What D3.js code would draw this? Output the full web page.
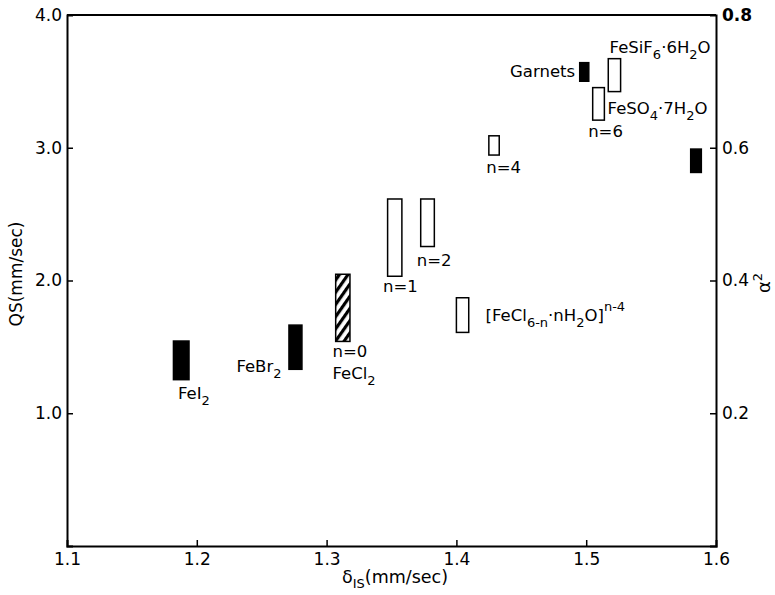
<!DOCTYPE html>
<html><head><meta charset="utf-8">
<script src="https://cdn.jsdelivr.net/npm/d3@7/dist/d3.min.js"></script>
<style>body{margin:0;background:#fff}svg{display:block}text{font-family:"DejaVu Sans",sans-serif;fill:#000}</style>
</head><body><svg id="c" width="775" height="595"></svg>
<script>
// Data: each range box (isomer shift range, quadrupole splitting range)
const boxIds   = ["FeI2","FeBr2","FeCl2","n1","n2","n3","n4","n6","FeSiF6","Garnets","x"];
const isMin    = [1.182,1.271,1.307,1.347,1.3725,1.400,1.425,1.505,1.517,1.495,1.5805];
const isMax    = [1.194,1.281,1.318,1.358,1.383,1.4095,1.433,1.514,1.5265,1.502,1.5887];
const qsMin    = [1.253,1.331,1.541,2.032,2.256,1.609,2.945,3.208,3.423,3.501,2.814];
const qsMax    = [1.544,1.664,2.047,2.614,2.614,1.870,3.090,3.453,3.671,3.641,2.990];
const boxFill  = ["solid","solid","hatch","open","open","open","open","open","open","solid","solid"];
const xTicks   = [1.1,1.2,1.3,1.4,1.5,1.6];
const yTicks   = [1.0,2.0,3.0,4.0];
const a2Ticks  = [0.2,0.4,0.6,0.8];

const svg = d3.select("#c");
const x = d3.scaleLinear().domain([1.1,1.6]).range([67,716]);
const y = d3.scaleLinear().domain([0,4]).range([546,15]);
const ya = d3.scaleLinear().domain([0,0.8]).range([546,15]);

// hatch pattern
const defs = svg.append("defs");
const pat = defs.append("pattern").attr("id","hatch").attr("patternUnits","userSpaceOnUse")
  .attr("width",7).attr("height",7).attr("patternTransform","rotate(35)");
pat.append("rect").attr("width",7).attr("height",7).attr("fill","#fff");
pat.append("rect").attr("width",3.2).attr("height",7).attr("fill","#000");

// axes
const g = svg.append("g");
g.append("g").attr("transform","translate(0,546)")
  .call(d3.axisBottom(x).tickValues(xTicks).tickSize(-6).tickPadding(7).tickFormat(d3.format(".1f")));
g.append("g").attr("transform","translate(67,0)")
  .call(d3.axisLeft(y).tickValues(yTicks).tickSize(-6).tickPadding(5).tickFormat(d3.format(".1f")));
g.append("g").attr("transform","translate(716,0)")
  .call(d3.axisRight(ya).tickValues(a2Ticks).tickSize(-6).tickPadding(6).tickFormat(d3.format(".1f")));
g.selectAll(".domain").attr("stroke","#000").attr("stroke-width",2);
g.selectAll(".tick line").attr("stroke","#000").attr("stroke-width",1.5);
g.selectAll(".tick text").attr("font-size",17).style("font-family","DejaVu Sans");
// top border
svg.append("line").attr("x1",x(1.1)).attr("x2",x(1.6)).attr("y1",y(4)).attr("y2",y(4))
  .attr("stroke","#000").attr("stroke-width",2);
// hide end tick lines
g.selectAll(".tick").filter(d=>d===1.1||d===1.6||d===4.0||d===0.8).select("line").remove();
g.selectAll(".tick").filter(d=>d===0.8).select("text").attr("font-weight","bold");

// boxes
const boxes = boxIds.map((id,i)=>({id,x0:isMin[i],x1:isMax[i],y0:qsMin[i],y1:qsMax[i],f:boxFill[i]}));
svg.append("g").selectAll("rect").data(boxes).join("rect")
  .attr("x",d=>x(d.x0)).attr("width",d=>x(d.x1)-x(d.x0))
  .attr("y",d=>y(d.y1)).attr("height",d=>y(d.y0)-y(d.y1))
  .attr("fill",d=>d.f==="solid"?"#000":d.f==="hatch"?"url(#hatch)":"#fff")
  .attr("stroke","#000").attr("stroke-width",1.5);

const FS = 16.5, SFS = 13;
// label helper: parts = [text, "sub"|"sup"|undefined]
function label(px,py,parts,anchor){
  const t = svg.append("text").attr("x",px).attr("y",py).attr("font-size",FS);
  if(anchor) t.attr("text-anchor",anchor);
  let shift = 0;
  parts.forEach(p=>{
    const s = t.append("tspan").text(p[0]);
    const target = p[1]==="sub"?6:p[1]==="sup"?-10:0;
    if(target!==shift){ s.attr("dy",target-shift); shift=target; }
    if(p[1]) s.attr("font-size",SFS);
  });
  return t;
}
label(x(1.1855),y(1.11),[["Fe"],["I"],["2","sub"]]);
label(x(1.2305),y(1.31),[["FeBr"],["2","sub"]]);
label(x(1.3045),y(1.42),[["n=0"]]);
label(x(1.3045),y(1.26),[["FeCl"],["2","sub"]]);
label(x(1.3435),y(1.91),[["n=1"]]);
label(x(1.3695),y(2.11),[["n=2"]]);
label(x(1.423),y(2.81),[["n=4"]]);
label(x(1.4225),y(1.695),[["[FeCl"],["6-n","sub"],["\u00b7nH"],["2","sub"],["O]"],["n-4","sup"]]);
label(x(1.5015),y(3.08),[["n=6"]]);
label(x(1.5165),y(3.255),[["FeSO"],["4","sub"],["\u00b77H"],["2","sub"],["O"]]);
label(x(1.518),y(3.715),[["FeSiF"],["6","sub"],["\u00b76H"],["2","sub"],["O"]]);
label(x(1.4915),y(3.535),[["Garnets"]],"end");

// axis titles
svg.append("text").attr("transform","translate(22,274) rotate(-90)").attr("text-anchor","middle")
  .attr("font-size",17).text("QS(mm/sec)");
{
  const t = svg.append("text").attr("x",395).attr("y",583).attr("text-anchor","middle").attr("font-size",17.5);
  t.append("tspan").text("\u03b4");
  t.append("tspan").text("IS").attr("dy",5).attr("font-size",13);
  t.append("tspan").text("(mm/sec)").attr("dy",-5);
}
{
  const t = svg.append("text").attr("transform","translate(770,283) rotate(-90)").attr("text-anchor","middle").attr("font-size",18);
  t.append("tspan").text("\u03b1");
  t.append("tspan").text("2").attr("dy",-8).attr("font-size",13);
}
</script></body></html>
